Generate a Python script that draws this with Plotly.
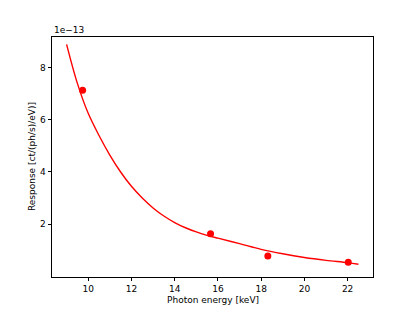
import plotly.graph_objects as go

SCALE = 1e-13

# Fitted response curve
curve_energy = [9.0, 9.5, 10.0, 10.5, 11.0, 11.5, 12.0, 12.5, 13.0, 13.5, 14.0,
                14.5, 15.0, 15.5, 16.0, 17.0, 18.0, 19.0, 20.0, 21.0, 22.0, 22.5]
curve_response = [8.90e-13, 7.40e-13, 6.25e-13, 5.40e-13, 4.65e-13, 4.00e-13,
                  3.45e-13, 3.00e-13, 2.62e-13, 2.31e-13, 2.06e-13, 1.86e-13,
                  1.70e-13, 1.57e-13, 1.46e-13, 1.25e-13, 1.03e-13, 0.86e-13,
                  0.72e-13, 0.61e-13, 0.52e-13, 0.46e-13]

# Measured points
point_energy = [9.74, 15.66, 18.31, 22.03]
point_response = [7.14e-13, 1.63e-13, 0.78e-13, 0.54e-13]

x_ticks = [10, 12, 14, 16, 18, 20, 22]
y_ticks = [2, 4, 6, 8]

FONT = "DejaVu Sans"

fig = go.Figure()
fig.add_trace(go.Scatter(
    x=curve_energy, y=[v / SCALE for v in curve_response],
    mode="lines", line=dict(color="#ff0000", width=1.4, shape="spline", smoothing=1.0),
    showlegend=False, hoverinfo="skip"))
fig.add_trace(go.Scatter(
    x=point_energy, y=[v / SCALE for v in point_response],
    mode="markers", marker=dict(color="#ff0000", size=7, line=dict(width=0)),
    showlegend=False))

axis_common = dict(
    showgrid=False, zeroline=False, showline=True, mirror=True,
    linecolor="black", linewidth=0.8, ticks="outside", ticklen=3.5,
    tickwidth=0.8, tickcolor="black",
    tickfont=dict(family=FONT, size=9, color="black"))

fig.update_xaxes(range=[8.325, 23.175], tickvals=x_ticks,
                 ticktext=[str(t) for t in x_ticks], **axis_common)
fig.update_yaxes(range=[-0.03, 9.18], tickvals=y_ticks,
                 ticktext=[str(t) for t in y_ticks], **axis_common)

fig.update_layout(
    width=415, height=311, autosize=False,
    margin=dict(l=52, r=41.5, t=37, b=34, pad=0),
    paper_bgcolor="white", plot_bgcolor="white",
    font=dict(family=FONT, size=9, color="black"),
    annotations=[
        dict(text="Photon energy [keV]", xref="paper", yref="paper",
             x=0.5, y=-0.095, xanchor="center", yanchor="middle",
             showarrow=False, font=dict(family=FONT, size=9)),
        dict(text="Response [ct/(ph/s)/eV)]", xref="paper", yref="paper",
             x=-0.062, y=0.5, xanchor="center", yanchor="middle", textangle=-90,
             showarrow=False, font=dict(family=FONT, size=9)),
        dict(text="1e\u221213", xref="paper", yref="paper",
             x=0.0, y=1.0, xanchor="left", yanchor="bottom", yshift=0,
             showarrow=False, font=dict(family=FONT, size=9)),
    ],
)

fig.write_html("out.html", config={"displayModeBar": False},
               post_script="document.body.style.margin='0';")
